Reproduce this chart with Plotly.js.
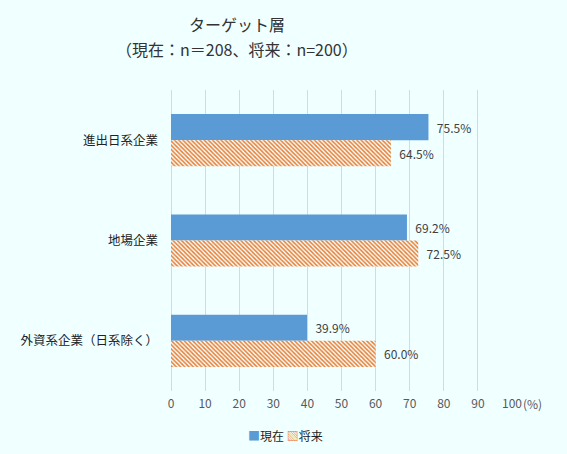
<!DOCTYPE html>
<html>
<head>
<meta charset="utf-8">
<script src="https://cdn.plot.ly/plotly-3.0.1.min.js"></script>
<style>
  html, body { margin: 0; padding: 0; background: #F0FFFF; }
  #chart { width: 567px; height: 454px; }
</style>
</head>
<body>
<div id="chart"></div>
<script>
// categories top to bottom
let categories = ["進出日系企業", "地場企業", "外資系企業（日系除く）"];
let nowValues = [75.5, 69.2, 39.9];     // 現在
let futureValues = [64.5, 72.5, 60.0];  // 将来
let xTicks = [0, 10, 20, 30, 40, 50, 60, 70, 80, 90, 100];
let seriesNames = ["現在", "将来"];

let bg = "#F0FFFF";
let blue = "#5B9BD5";
let orange = "#ED7D31";
let font = "Noto Sans CJK JP, sans-serif";

let traceNow = {
    y: categories,
    x: nowValues,
    name: seriesNames[0],
    type: "bar",
    orientation: "h",
    marker: {color: blue},
    texttemplate: "\u00a0\u00a0%{x:.1f}%",
    textposition: "outside",
    cliponaxis: false,
    textfont: {size: 12, color: "#404040", family: font}
};

let traceFuture = {
    y: categories,
    x: futureValues,
    name: seriesNames[1],
    type: "bar",
    orientation: "h",
    marker: {
        color: bg,
        pattern: {shape: "\\", fgcolor: orange, bgcolor: bg, size: 3, solidity: 0.5}
    },
    texttemplate: "\u00a0\u00a0%{x:.1f}%",
    textposition: "outside",
    cliponaxis: false,
    textfont: {size: 12, color: "#404040", family: font}
};

// compact legend like the original (small square + hatched square)
let legendText = "<span style='color:" + blue + "'>■</span>" + seriesNames[0] +
    " <span style='color:" + orange + "'>▧</span>" + seriesNames[1];

// plot area: x 171..512, y 90..391
let titleX = (237 - 171) / 341;

let layout = {
    width: 567,
    height: 454,
    paper_bgcolor: bg,
    plot_bgcolor: bg,
    font: {family: font, color: "#333333", size: 11},
    margin: {l: 171, r: 55, t: 90, b: 63},
    title: {
        text: "ターゲット層",
        x: 237 / 567,
        xanchor: "center",
        xref: "container",
        y: 1 - 25 / 454,
        yanchor: "middle",
        font: {size: 16, color: "#333333", family: font}
    },
    barmode: "group",
    bargap: 0.48,
    bargroupgap: 0,
    xaxis: {
        range: [0, 100],
        tickvals: xTicks,
        ticktext: xTicks.map(String),
        showgrid: true,
        gridcolor: "#D9D9D9",
        zeroline: true,
        zerolinecolor: "#D9D9D9",
        showline: false,
        ticks: "",
        ticklabelstandoff: 4,
        tickfont: {size: 12, color: "#595959"},
        fixedrange: true
    },
    yaxis: {
        autorange: "reversed",
        showgrid: false,
        zeroline: false,
        ticks: "",
        ticklabelstandoff: 12,
        tickfont: {size: 12.5, color: "#222222"},
        fixedrange: true
    },
    showlegend: false,
    annotations: [{
        text: "（現在：n＝208、将来：n=200）",
        xref: "paper",
        yref: "paper",
        x: titleX,
        xanchor: "center",
        y: 1,
        yshift: 90 - 49,
        yanchor: "middle",
        showarrow: false,
        font: {size: 16, color: "#333333"}
    }, {
        text: "(%)",
        xref: "paper",
        yref: "paper",
        x: 1.0,
        xshift: 9,
        xanchor: "left",
        y: 0,
        yshift: -12,
        yanchor: "middle",
        showarrow: false,
        font: {size: 12, color: "#595959"}
    }, {
        text: legendText,
        xref: "paper",
        yref: "paper",
        x: (285 - 171) / 341,
        xanchor: "center",
        y: 0,
        yshift: -44,
        yanchor: "middle",
        showarrow: false,
        font: {size: 12, color: "#222222"}
    }]
};

Plotly.newPlot("chart", [traceNow, traceFuture], layout, {displayModeBar: false, staticPlot: true});
</script>
</body>
</html>
